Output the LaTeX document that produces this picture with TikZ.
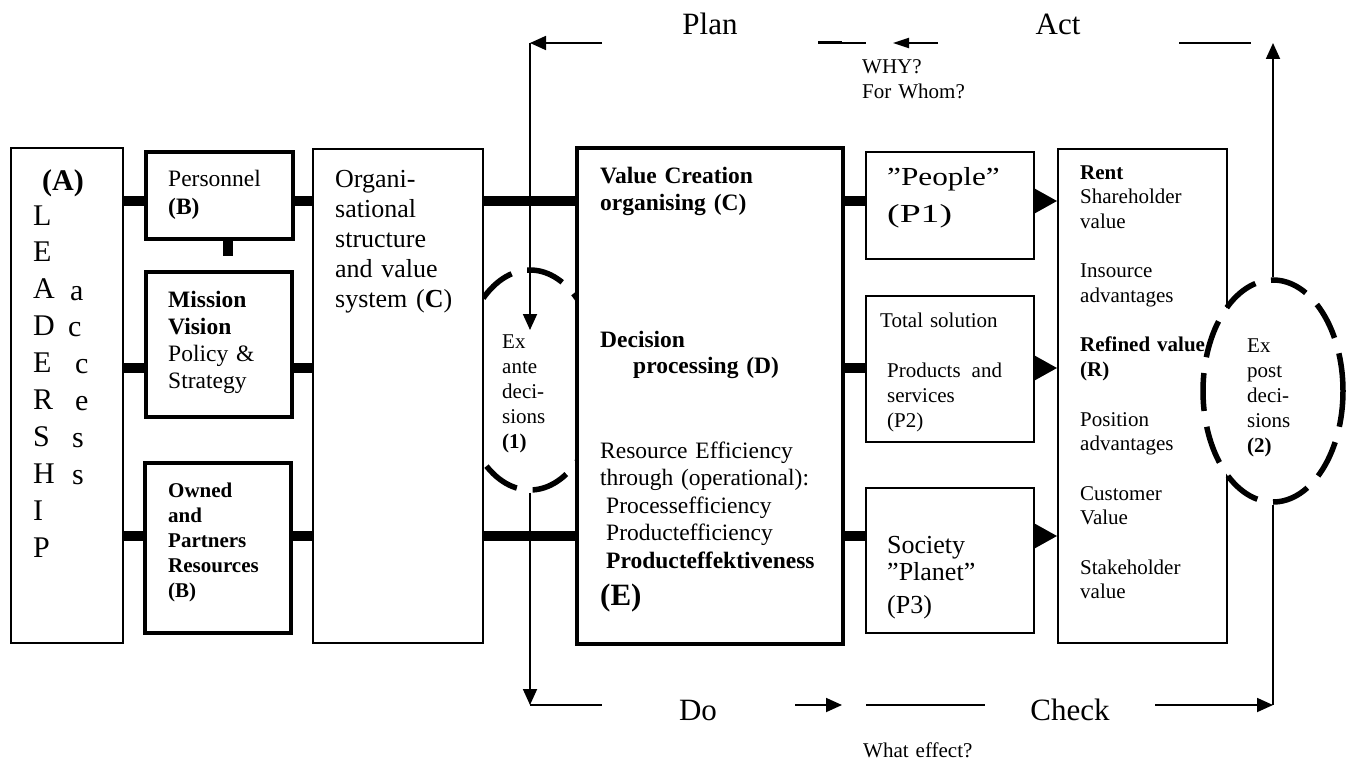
\documentclass[tikz,border=0pt]{standalone}
\usepackage{fontspec}
\setmainfont{Liberation Serif}
\usepackage{graphicx}
\usetikzlibrary{arrows.meta, fit, shapes.geometric}
\newcommand{\fs}[2]{\fontsize{#1}{#2}\selectfont}

\begin{document}
\begin{tikzpicture}[x=1pt, y=-1pt,
  thickbox/.style={draw, line width=3.5pt, fill=white, inner sep=0pt},
  thinbox/.style={draw, line width=2pt, fill=white, inner sep=0pt},
  link/.style={line width=10.5pt},
  pline/.style={line width=1.8pt},
  pdca/.style={line width=1.8pt, -{Triangle[length=16pt,width=14pt]}},
  result/.style={line width=2pt, -{Triangle[length=22pt,width=24pt]}},
  decis/.style={ellipse, draw, line width=5.5pt, dash pattern=on 38pt off 16pt, inner sep=0pt},
  txt/.style={anchor=base west, inner sep=0pt, align=left, text width=260pt},
  loop/.style={font=\fs{31}{36}, anchor=base, inner sep=0pt}
]
\useasboundingbox (0,0) rectangle (1347,760);

% Ex ante circle, behind the boxes
\node[decis, minimum width=140pt, minimum height=220pt] (exa) at (530,380) {};

% Rows of the connectors
\coordinate (r1) at (0,201);
\coordinate (r2) at (0,368);
\coordinate (r3) at (0,536);

% Boxes
\node[thinbox, fit={(11,148) (123,643)}] (lead) {};
\node[thickbox, fit={(146,152) (293,239)}] (pers) {};
\node[thickbox, fit={(146,272) (292,417)}] (miss) {};
\node[thickbox, fit={(145,463) (291,633)}] (own) {};
\node[thinbox, line width=1.6pt, fit={(313,149) (483,643)}] (org) {};
\node[thickbox, fit={(577,148) (843,644)}] (val) {};
\node[thinbox, fit={(866,152) (1034,259)}] (p1) {};
\node[thinbox, fit={(866,296) (1034,442)}] (p2) {};
\node[thinbox, fit={(866,488) (1034,633)}] (p3) {};
\node[thinbox, fit={(1058,149) (1227,643)}] (rv) {};

% Thick links
\draw[link] (lead.east |- r1) -- (pers.west |- r1);
\draw[link] (lead.east |- r2) -- (miss.west |- r2);
\draw[link] (lead.east |- r3) -- (own.west |- r3);
\draw[link] (pers.east |- r1) -- (org.west |- r1);
\draw[link] (miss.east |- r2) -- (org.west |- r2);
\draw[link] (own.east |- r3) -- (org.west |- r3);
\draw[link] (org.east |- r1) -- (val.west |- r1);
\draw[link] (org.east |- r3) -- (val.west |- r3);
\draw[link] (val.east |- r1) -- (p1.west |- r1);
\draw[link] (val.east |- r2) -- (p2.west |- r2);
\draw[link] (val.east |- r3) -- (p3.west |- r3);
\coordinate (stub) at (228,256);
\draw[link] (stub |- pers.south) -- (stub);

% Results
\draw[result] (p1.east |- r1) -- (rv.west |- r1);
\draw[result] (p2.east |- r2) -- (rv.west |- r2);
\draw[result] (p3.east |- r3) -- (rv.west |- r3);

% Ex post circle, over the R box
\node[decis, fill=white, minimum width=140pt, minimum height=222pt] (expo) at (1273,391) {};

% Plan - Act
\coordinate (plan-r) at (602,43);
\coordinate (plan-l) at (530,43);
\coordinate (exa-in) at (530,330);
\draw[pdca] (plan-r) -- (plan-l);
\draw[pdca] (plan-l) -- (exa-in);
\coordinate (act-a) at (818,43);
\coordinate (act-b) at (842,43);
\coordinate (act-c) at (866,43);
\draw[line width=3pt] (act-a) -- (act-b);
\draw[pline] (act-b) -- (act-c);
\coordinate (why-r) at (938,43);
\coordinate (why-l) at (893,43);
\draw[pline, -{Triangle[length=16pt,width=10pt]}] (why-r) -- (why-l);
\coordinate (act-l) at (1179,43);
\coordinate (act-r) at (1251,43);
\draw[pline] (act-l) -- (act-r);
\coordinate (act-up) at (1273,43);
\draw[pdca] (expo.north) -- (act-up);

% Do - Check
\coordinate (do-c) at (530,705);
\coordinate (do-r) at (602,705);
\coordinate (do-a) at (795,705);
\coordinate (do-b) at (842,705);
\coordinate (chk-a) at (866,705);
\coordinate (chk-b) at (985,705);
\coordinate (chk-c) at (1155,705);
\coordinate (chk-d) at (1273,705);
\draw[pdca] (exa.south) -- (do-c);
\draw[pline] (do-c) -- (do-r);
\draw[pdca] (do-a) -- (do-b);
\draw[pline] (chk-a) -- (chk-b);
\draw[pdca] (chk-c) -- (chk-d);
\draw[pline] (chk-d) -- (expo.south);

% Loop labels
\node[loop] (plan) at (710,35) {Plan};
\node[loop] (act) at (1058,35) {Act};
\node[loop] (do) at (698,720) {Do};
\node[loop] (check) at (1070,720) {Check};
\node[txt, font=\fs{21}{25}] (why) at (862,74) {WHY?\\For Whom?};
\node[txt, font=\fs{21}{25}] (effect) at (863,757) {What effect?};

% Box texts
\node[txt, font=\fs{30}{36.9}] (lead-t) at (33,190) {\hspace*{9pt}\textbf{(A)}\\[-1.9pt]L\\E\\A\\D\\E\\R\\S\\H\\I\\P};
\node[txt, font=\fs{30}{36.9}] (acc-t) at (68,300) {\hspace*{2pt}a\\c\\\hspace*{7pt}c\\\hspace*{7pt}e\\\hspace*{4pt}s\\\hspace*{4pt}s};
\node[txt, font=\fs{23.5}{28}] (pers-t) at (168,186) {Personnel\\\textbf{(B)}};
\node[txt, font=\fs{23.5}{27}] (miss-t) at (168,307) {\textbf{Mission}\\\textbf{Vision}\\Policy \&\\Strategy};
\node[txt, font=\fs{21}{25}\bfseries] (own-t) at (168,497) {Owned\\and\\Partners\\Resources\\(B)};
\node[txt, font=\fs{26}{30}] (org-t) at (335,187) {Organi-\\sational\\structure\\and value\\system (\textbf{C})};
\node[txt, font=\fs{23.5}{27}\bfseries] (vc-t) at (600,183) {Value Creation\\organising (C)};
\node[txt, font=\fs{23.5}{26}\bfseries] (dp-t) at (600,347) {Decision\\\hspace*{33pt}processing (D)};
\node[txt, font=\fs{23.5}{27.5}] (re-t) at (600,458) {Resource Efficiency\\through (operational):\\\hspace*{6pt}Processefficiency\\\hspace*{6pt}Productefficiency\\\hspace*{6pt}\textbf{Producteffektiveness}};
\node[txt, font=\fs{31}{36}\bfseries] (e-t) at (600,605) {(E)};
\node[txt, font=\fs{26}{37}] (p1-t) at (887,185) {\scalebox{1.2}[1]{”People”}\\\scalebox{1.45}[1]{(P1)}};
\node[txt, font=\fs{21}{25}] (p2-t) at (887,327) {\hspace*{-7pt}Total solution\\[25pt]Products\hspace{11pt}and\\services\\(P2)};
\node[txt, font=\fs{26}{27}] (p3-t) at (887,553) {Society\\”Planet”\\[6pt](P3)};
\node[txt, font=\fs{21}{24.7}] (rv-t) at (1080,179) {\textbf{Rent}\\Shareholder\\value\\[24.7pt]Insource\\advantages\\[24.7pt]\textbf{Refined value}\\\textbf{(R)}\\[24.7pt]Position\\advantages\\[24.7pt]Customer\\Value\\[24.7pt]Stakeholder\\value};
\node[txt, font=\fs{21}{25}] (exa-t) at (502,348) {Ex\\ante\\deci-\\sions\\\textbf{(1)}};
\node[txt, font=\fs{21}{25}] (expo-t) at (1247,352) {Ex\\post\\deci-\\sions\\\textbf{(2)}};

\end{tikzpicture}
\end{document}
